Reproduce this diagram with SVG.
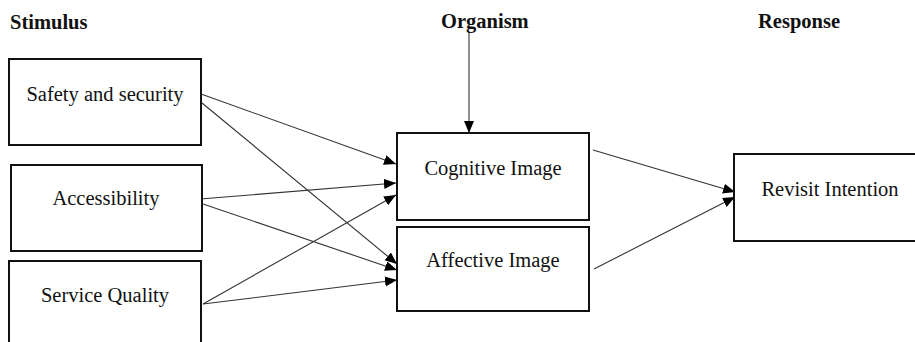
<svg xmlns="http://www.w3.org/2000/svg" width="915" height="342" viewBox="0 0 915 342">
<style>
.box{fill:#fff;stroke:#111;stroke-width:2}
.lbl{font-family:"Liberation Serif","Times New Roman",serif;font-size:20.5px;fill:#111;text-anchor:middle}
.hdr{font-family:"Liberation Serif","Times New Roman",serif;font-size:20.5px;font-weight:bold;fill:#111}
.con{stroke:#333;stroke-width:1.1;fill:none;marker-end:url(#ah)}
</style>
<defs>
<marker id="ah" markerUnits="userSpaceOnUse" markerWidth="13" markerHeight="11" refX="12" refY="5" orient="auto">
<path d="M0,0 L12,5 L0,10 z" fill="#000"/>
</marker>
</defs>
<rect width="915" height="342" fill="#fff"/>
<g id="headers">
<text class="hdr" x="10" y="29">Stimulus</text>
<text class="hdr" x="441" y="28">Organism</text>
<text class="hdr" x="758" y="28">Response</text>
</g>
<g id="connectors">
<line class="con" x1="201" y1="94" x2="396" y2="164"/>
<line class="con" x1="202" y1="103" x2="397" y2="264"/>
<line class="con" x1="200" y1="199" x2="396" y2="183"/>
<line class="con" x1="203" y1="204" x2="397" y2="270"/>
<line class="con" x1="203" y1="304" x2="396" y2="195"/>
<line class="con" x1="203" y1="304" x2="397" y2="280"/>
<line class="con" x1="469" y1="32" x2="469" y2="133"/>
<line class="con" x1="593" y1="150" x2="735" y2="192"/>
<line class="con" x1="594" y1="269" x2="735" y2="197"/>
</g>
<g id="safety">
<rect class="box" x="9" y="59" width="192" height="86"/>
<text class="lbl" x="105" y="101">Safety and security</text>
</g>
<g id="accessibility">
<rect class="box" x="11" y="165" width="191" height="86"/>
<text class="lbl" x="106" y="205">Accessibility</text>
</g>
<g id="service">
<rect class="box" x="9" y="261" width="192" height="90"/>
<text class="lbl" x="105" y="302">Service Quality</text>
</g>
<g id="cognitive">
<rect class="box" x="397" y="133" width="192" height="87"/>
<text class="lbl" x="493" y="175">Cognitive Image</text>
</g>
<g id="affective">
<rect class="box" x="397" y="227" width="192" height="84"/>
<text class="lbl" x="493" y="267">Affective Image</text>
</g>
<g id="revisit">
<rect class="box" x="734" y="154" width="190" height="87"/>
<text class="lbl" x="830" y="196">Revisit Intention</text>
</g>
</svg>
